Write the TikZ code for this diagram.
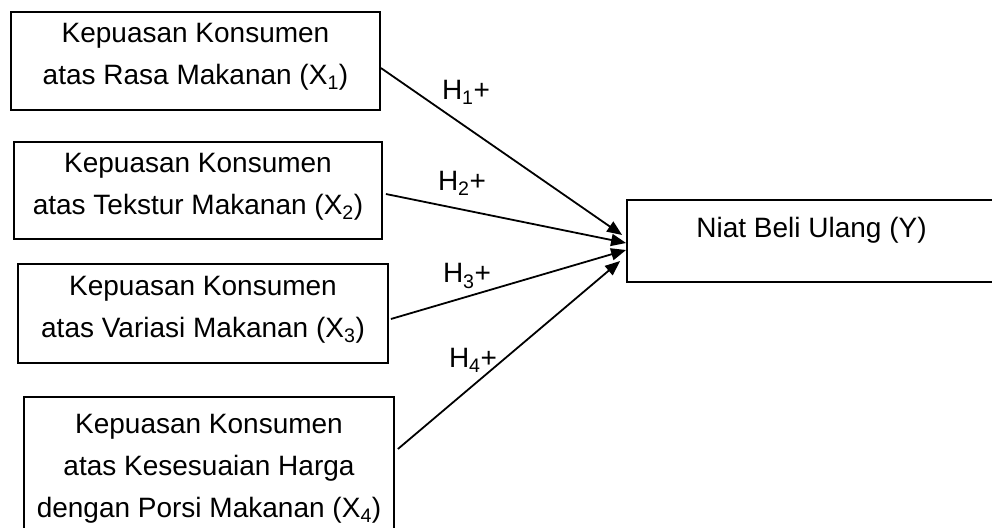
\documentclass[tikz,border=0pt]{standalone}
\usepackage{fontspec}
\setmainfont{Liberation Sans}
\usetikzlibrary{arrows.meta}
\tikzset{
  >={Triangle[length=15pt,width=12pt]},
  varbox/.style={
    draw=black, line width=1.8pt, align=center, inner sep=3pt,
    font=\fontsize{28}{42}\selectfont, text depth=14pt
  },
  hyparr/.style={->, line width=1.8pt},
  hyplab/.style={font=\fontsize{28}{42}\selectfont}
}

\begin{document}
\begin{tikzpicture}[x=1pt,y=-1pt]
  \useasboundingbox (0,0) rectangle (992,527);
  \node[varbox, minimum width=369pt, minimum height=98pt] (x1) at (195.5,61)
    {Kepuasan Konsumen\\atas Rasa Makanan (X\textsubscript{1})};
  \node[varbox, minimum width=368pt, minimum height=97pt] (x2) at (198,190.5)
    {Kepuasan Konsumen\\atas Tekstur Makanan (X\textsubscript{2})};
  \node[varbox, minimum width=370pt, minimum height=99pt] (x3) at (203,313.5)
    {Kepuasan Konsumen\\atas Variasi Makanan (X\textsubscript{3})};
  \node[varbox, minimum width=370pt, minimum height=152pt] (x4) at (209,473)
    {Kepuasan Konsumen\\atas Kesesuaian Harga\\dengan Porsi Makanan (X\textsubscript{4})};
  \node[varbox, minimum width=369pt, minimum height=82pt, text depth=28pt] (y) at (811.5,241)
    {Niat Beli Ulang (Y)};
  \draw[hyparr] ([yshift=-7pt]x1.east) -- ([xshift=-4pt,yshift=6pt]y.west);
  \draw[hyparr] ([xshift=3pt,yshift=-3.5pt]x2.east) -- ([yshift=-2pt]y.west);
  \draw[hyparr] ([xshift=2pt,yshift=-5.5pt]x3.east) -- ([yshift=-9pt]y.west);
  \draw[hyparr] ([xshift=3pt,yshift=24pt]x4.east) -- ([xshift=-6pt,yshift=-20pt]y.west);
  \node[hyplab] (h1) at (466,92) {H\textsubscript{1}+};
  \node[hyplab] (h2) at (462,183) {H\textsubscript{2}+};
  \node[hyplab] (h3) at (467,276) {H\textsubscript{3}+};
  \node[hyplab] (h4) at (473,360) {H\textsubscript{4}+};
\end{tikzpicture}
\end{document}
